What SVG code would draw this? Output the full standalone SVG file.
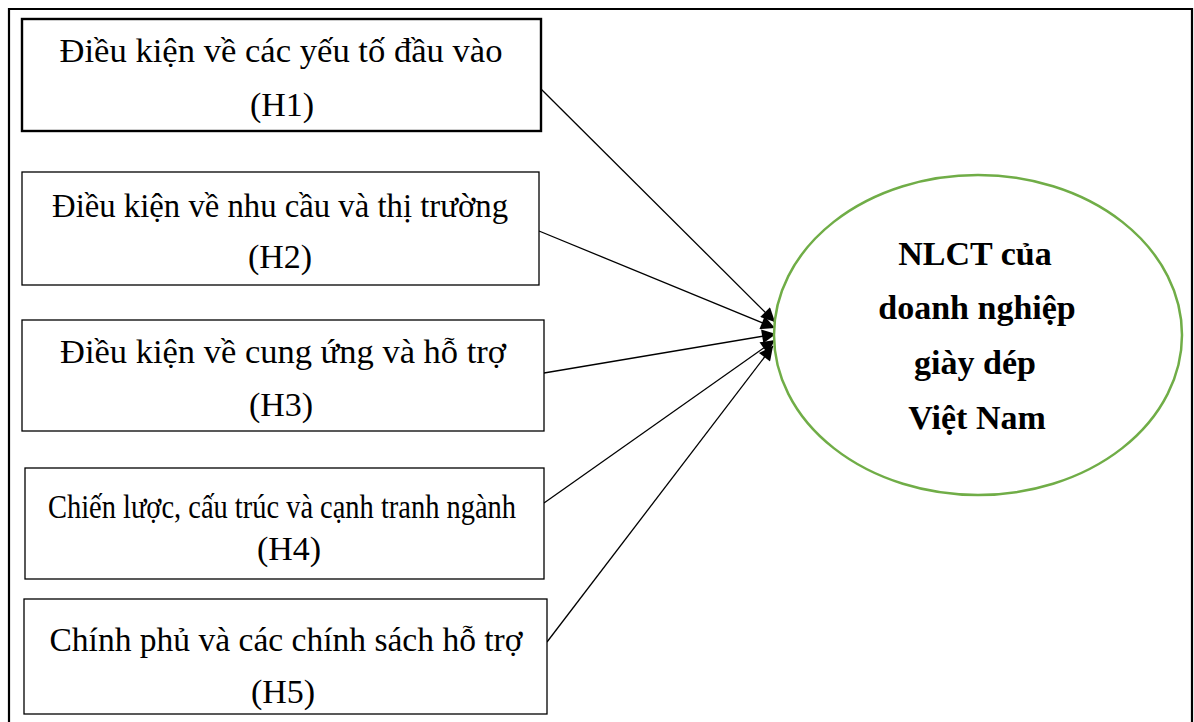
<svg xmlns="http://www.w3.org/2000/svg" width="1194" height="722" viewBox="0 0 1194 722">
<defs>
<style>
.box{fill:#fff;stroke:#000;stroke-width:1.3}
.thick{stroke-width:2.4}
.t{font-family:"Liberation Serif","Times New Roman",serif;font-size:34px;fill:#000;text-anchor:middle}
.b{font-family:"Liberation Serif","Times New Roman",serif;font-size:34px;font-weight:bold;fill:#000;text-anchor:middle}
.c{stroke:#000;stroke-width:1.3;fill:none;marker-end:url(#ah)}
</style>
<marker id="ah" viewBox="0 0 10 10" refX="10" refY="5" markerWidth="16" markerHeight="14" markerUnits="userSpaceOnUse" orient="auto">
<path d="M0,0 L10,5 L0,10 z" fill="#000"/>
</marker>
</defs>
<rect width="1194" height="722" fill="#fff"/>
<path d="M9,730 L9,9 L1192,9 L1192,730" fill="none" stroke="#000" stroke-width="2.2"/>
<g id="connectors">
<line class="c" x1="541" y1="89" x2="775" y2="322"/>
<line class="c" x1="539" y1="231" x2="775" y2="328"/>
<line class="c" x1="544" y1="373" x2="776" y2="334"/>
<line class="c" x1="544" y1="503" x2="775" y2="340"/>
<line class="c" x1="547" y1="642" x2="773" y2="346"/>
</g>
<g id="h1">
<rect class="box thick" x="22" y="19" width="519" height="112"/>
<text class="t" x="281" y="62" textLength="443" lengthAdjust="spacingAndGlyphs">Điều kiện về các yếu tố đầu vào</text>
<text class="t" x="282" y="116">(H1)</text>
</g>
<g id="h2">
<rect class="box" x="22" y="172" width="517" height="113"/>
<text class="t" x="280" y="217" textLength="456" lengthAdjust="spacingAndGlyphs">Điều kiện về nhu cầu và thị trường</text>
<text class="t" x="280" y="268">(H2)</text>
</g>
<g id="h3">
<rect class="box" x="22" y="320" width="522" height="111"/>
<text class="t" x="283" y="363" textLength="446" lengthAdjust="spacingAndGlyphs">Điều kiện về cung ứng và hỗ trợ</text>
<text class="t" x="281" y="416">(H3)</text>
</g>
<g id="h4">
<rect class="box" x="25" y="468" width="519" height="111"/>
<text class="t" x="282" y="518" textLength="468" lengthAdjust="spacingAndGlyphs">Chiến lược, cấu trúc và cạnh tranh ngành</text>
<text class="t" x="289" y="560">(H4)</text>
</g>
<g id="h5">
<rect class="box" x="24" y="599" width="523" height="115"/>
<text class="t" x="286" y="651" textLength="473" lengthAdjust="spacingAndGlyphs">Chính phủ và các chính sách hỗ trợ</text>
<text class="t" x="283" y="703">(H5)</text>
</g>
<g id="nlct">
<ellipse cx="978" cy="335" rx="204" ry="160" fill="#fff" stroke="#70ad47" stroke-width="2.5"/>
<text class="b" x="975" y="265">NLCT của</text>
<text class="b" x="977" y="319">doanh nghiệp</text>
<text class="b" x="975" y="374">giày dép</text>
<text class="b" x="977" y="429">Việt Nam</text>
</g>
</svg>
